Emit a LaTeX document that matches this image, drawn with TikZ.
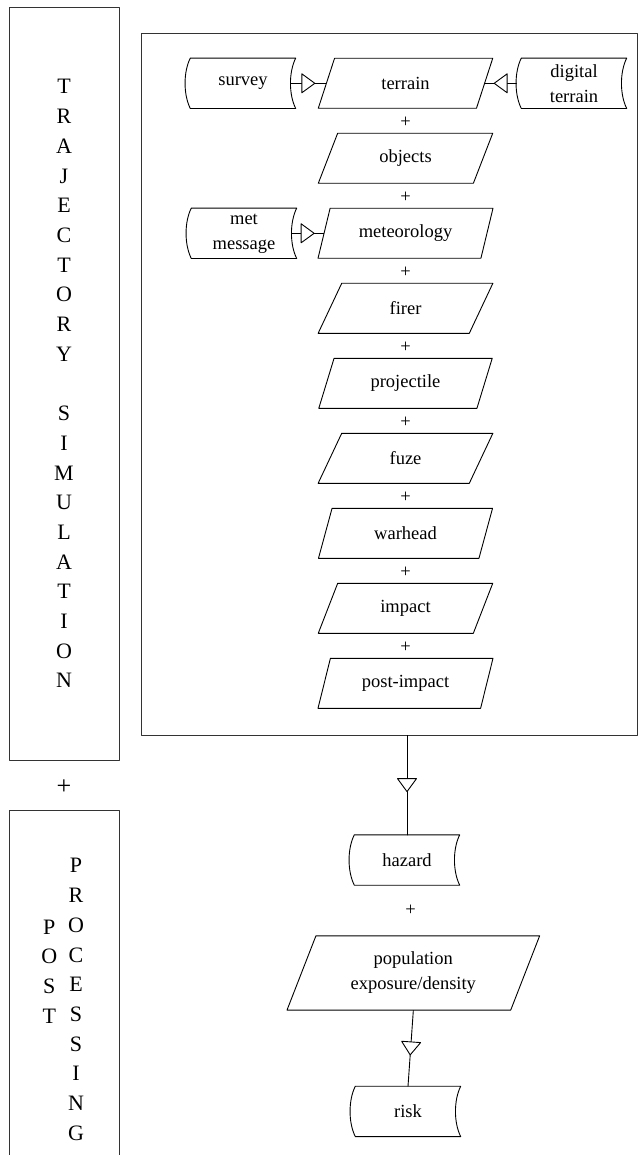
\documentclass[tikz,border=0pt]{standalone}
\usepackage{fontspec}
\setmainfont{Liberation Serif}
\usetikzlibrary{shapes.geometric}
\usetikzlibrary{decorations.markings}

\begin{document}
\begin{tikzpicture}[
  x=1pt,y=-1pt,
  line cap=round,
  line join=round,
  panel/.style={draw=black!80,line width=0.9pt,inner sep=0pt},
  letters/.style={align=center,font=\fontsize{22}{29.7}\selectfont},
  txt/.style={align=center,font=\fontsize{18.5}{25}\selectfont},
  para/.style={txt,draw=black,line width=0.9pt,trapezium,
    trapezium left angle=66,trapezium right angle=114,
    trapezium stretches=true,minimum width=175pt,minimum height=50pt,inner sep=0pt},
  store/.style={txt,minimum width=105pt,minimum height=50pt,inner sep=0pt,
    append after command={\pgfextra{\draw[line width=0.9pt]
      (\tikzlastnode.north east) -- (\tikzlastnode.north west)
      .. controls +(-7pt,-14pt) and +(-7pt,14pt) .. (\tikzlastnode.south west)
      -- (\tikzlastnode.south east)
      .. controls +(-7pt,14pt) and +(-7pt,-14pt) .. (\tikzlastnode.north east);}}},
  plusmark/.style={font=\fontsize{18.5}{22}\selectfont,inner sep=0pt},
  flow/.style={draw=black,line width=0.9pt,postaction={decorate},
    decoration={markings,mark=at position 0.5 with
      {\draw[fill=white,line width=0.9pt] (-6.5pt,-9.5pt) -- (6.5pt,0pt) -- (-6.5pt,9.5pt) -- cycle;}}}
]
  \useasboundingbox (0,0) rectangle (638,1155);

  % Side panels
  \node[panel,letters,minimum width=110pt,minimum height=752.5pt] (traj) at (64,383.7)
    {T\\R\\A\\J\\E\\C\\T\\O\\R\\Y\\[29.7pt]S\\I\\M\\U\\L\\A\\T\\I\\O\\N};
  \node[plusmark,font=\fontsize{26}{30}\selectfont] (sideplus) at (64,786.7) {+};
  \node[panel,minimum width=110pt,minimum height=350pt] (post) at (64,985) {};
  \node[letters] (postword) at (49.3,971.5) {P\\O\\S\\T};
  \node[letters] (procword) at (76,999.5) {P\\R\\O\\C\\E\\S\\S\\I\\N\\G};

  % Simulation frame
  \node[panel,minimum width=495.8pt,minimum height=702pt] (sim) at (389.6,384) {};

  % Inputs
  \node[store] (survey) at (243,83.3) {survey};
  \node[store] (digital) at (574,83.3) {digital\\terrain};
  \node[store] (metmsg) at (244,233.3) {met\\message};

  % Simulation chain
  \node[para] (terrain) at (405.5,83.3) {terrain};
  \node[para] (objects) at (405.5,158.3) {objects};
  \node[para] (meteo) at (405.5,233.3) {meteorology};
  \node[para] (firer) at (405.5,308.3) {firer};
  \node[para] (projectile) at (405.5,383.3) {projectile};
  \node[para] (fuze) at (405.5,458.3) {fuze};
  \node[para] (warhead) at (405.5,533.3) {warhead};
  \node[para] (impact) at (405.5,608.3) {impact};
  \node[para] (postimpact) at (405.5,683.3) {post-impact};
  \foreach \k in {0,...,7}
    \node[plusmark] (plus\k) at (405.7,{121.8+75*\k}) {+};

  % Post processing chain
  \node[store] (hazard) at (407,860) {hazard};
  \node[plusmark] (hazplus) at (410.7,910.7) {+};
  \node[para,minimum width=253.3pt,minimum height=74.3pt] (popul) at (413.3,973)
    {population\\exposure/density};
  \node[store] (risk) at (408,1111.4) {risk};

  % Connectors
  \draw[flow] ([xshift=-5pt]survey.east) -- (terrain.left side);
  \draw[flow] ([xshift=-5pt]digital.west) -- (terrain.right side);
  \draw[flow] ([xshift=-5pt]metmsg.east) -- (meteo.left side);
  \draw[flow] (sim.south -| hazard.north) -- (hazard.north);
  \draw[flow] (popul.south) -- (risk.north);
\end{tikzpicture}
\end{document}
